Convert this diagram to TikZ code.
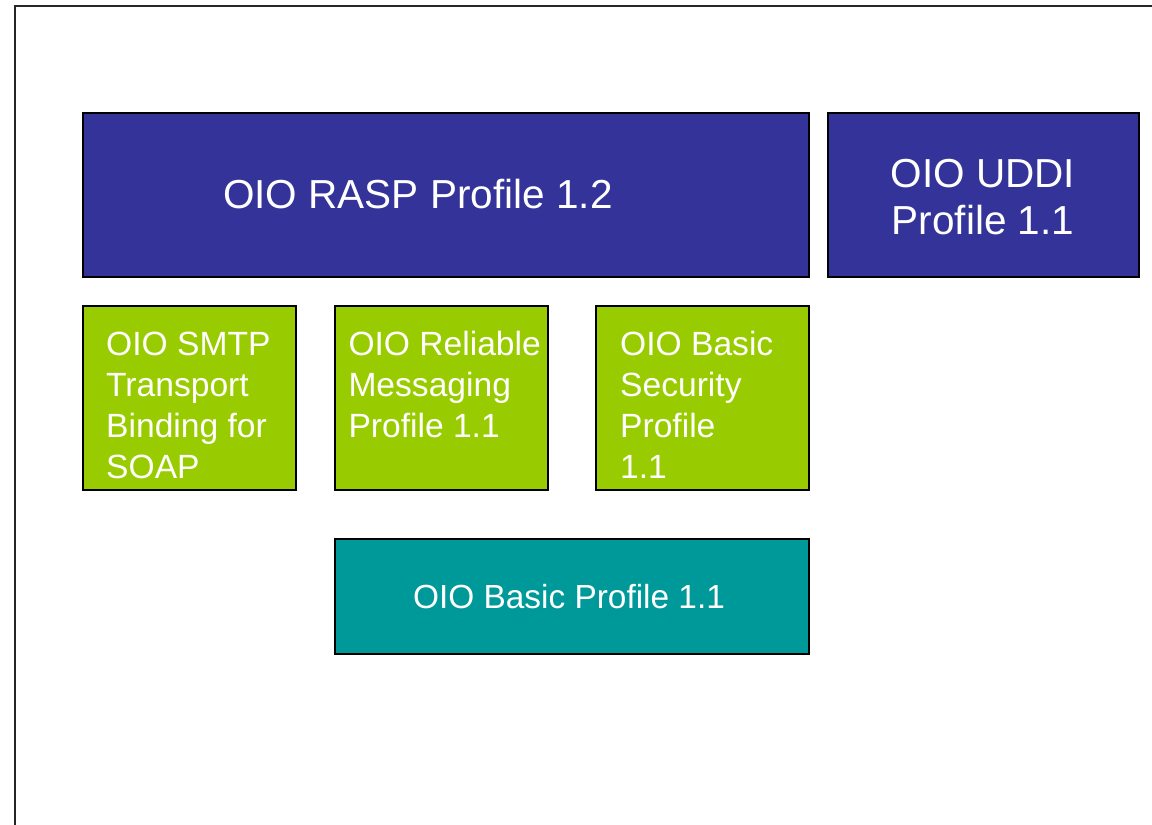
\documentclass[tikz,border=0pt]{standalone}
\usepackage{fontspec}
\setmainfont{Liberation Sans}
\definecolor{raspblue}{HTML}{333399}
\definecolor{oiogreen}{HTML}{99CC00}
\definecolor{oioteal}{HTML}{009999}
\tikzset{
  boxshape/.style={draw=black, line width=1.3pt, rectangle, inner sep=0pt, outer sep=0pt, anchor=north west},
  bigtxt/.style={text=white, inner sep=0pt, font=\fontsize{40.5}{47}\selectfont},
  smalltxt/.style={text=white, inner sep=0pt, font=\fontsize{33.6}{41}\selectfont, align=left, anchor=base west},
}
\begin{document}
\begin{tikzpicture}[x=1pt,y=-1pt]
\useasboundingbox (0,0) rectangle (1152,825);
\fill[white] (0,0) rectangle (1152,825);
\coordinate (fbl) at (15,826);
\coordinate (ftl) at (15,6);
\coordinate (ftr) at (1153,6);
\draw[line width=2pt, black!85] (fbl) -- (ftl) -- (ftr);

\node[boxshape, fill=raspblue, minimum width=726pt, minimum height=164pt] (rasp) at (83,113) {};
\node[boxshape, fill=raspblue, minimum width=311pt, minimum height=164pt] (uddi) at (828,113) {};
\node[boxshape, fill=oiogreen, minimum width=213pt, minimum height=184pt] (smtp) at (83,306) {};
\node[boxshape, fill=oiogreen, minimum width=213pt, minimum height=184pt] (rel) at (335,306) {};
\node[boxshape, fill=oiogreen, minimum width=213pt, minimum height=184pt] (sec) at (596,306) {};
\node[boxshape, fill=oioteal, minimum width=474pt, minimum height=115pt] (basic) at (335,539) {};

\node[bigtxt, anchor=base west] (rasptxt) at (223,208.3) {OIO RASP Profile 1.2};
\node[bigtxt, anchor=base] (uddi1) at (983,187.5) {OIO UDDI};
\node[bigtxt, anchor=base] (uddi2) at (983,234.5) {Profile 1.1};

% base anchor of a multi-line node is the baseline of its last line
\node[smalltxt] (smtptxt) at (106,478) {OIO SMTP\\Transport\\Binding for\\SOAP};
\node[smalltxt] (reltxt) at (348.3,437) {OIO Reliable\\Messaging\\Profile 1.1};
\node[smalltxt] (sectxt) at (620,478) {OIO Basic\\Security\\Profile\\1.1};
\node[text=white, inner sep=0pt, font=\fontsize{33.4}{41}\selectfont, anchor=base] (basictxt) at (569,608.3) {OIO Basic Profile 1.1};
\end{tikzpicture}
\end{document}
